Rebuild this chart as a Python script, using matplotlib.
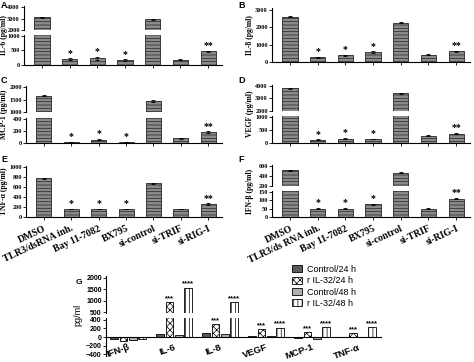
import matplotlib
matplotlib.use("Agg")
import matplotlib.pyplot as plt
from matplotlib.patches import Patch
import numpy as np

W, H = 474, 362

# data, panels A-F
cats_e = ["DMSO", "TLR3/dsRNA inh.", "Bay 11-7082", "BX795", "si-control", "si-TRIF", "si-RIG-I"]
cats_f = ["DMSO", "TLR3/ds RNA inh.", "Bay 11-7082", "BX795", "si-control", "si-TRIF", "si-RIG-I"]
stars = ["", "*", "*", "*", "", "", "**"]

il6 = [3100, 200, 230, 170, 2950, 185, 470]
il6_err = [40, 25, 45, 20, 50, 10, 25]
il8 = [2600, 260, 400, 570, 2250, 430, 620]
il8_err = [30, 40, 30, 40, 30, 20, 40]
mcp1 = [1650, 12, 55, 12, 1450, 80, 180]
mcp1_err = [20, 3, 8, 3, 30, 8, 12]
vegf = [3800, 120, 170, 150, 3400, 280, 360]
vegf_err = [40, 20, 20, 15, 40, 10, 25]
tnfa = [770, 160, 160, 160, 670, 165, 260]
tnfa_err = [8, 8, 8, 8, 8, 5, 15]
ifnb = [510, 50, 50, 75, 460, 50, 110]
ifnb_err = [8, 3, 3, 5, 5, 2, 5]

# data, panel G
g_cats = ["IFN-β", "IL-6", "IL-8", "VEGF", "MCP-1", "TNF-α"]
g_series = ["Control/24 h", "r IL-32/24 h", "Control/48 h", "r IL-32/48 h"]
ctrl_24 = [-50, 60, 90, 20, -30, -5]
ril32_24 = [-90, 950, 310, 180, 120, 100]
ctrl_48 = [-70, 50, 80, 30, -40, 5]
ril32_48 = [-50, 1580, 930, 220, 230, 230]
g_stars_24 = ["", "***", "***", "***", "***", "***"]
g_stars_48 = ["", "****", "****", "****", "****", "****"]

SERIF = "Liberation Serif"
SANS = "Liberation Sans"
plt.rcParams["hatch.linewidth"] = 0.5

fig = plt.figure(figsize=(W / 100, H / 100), dpi=100)


def box(l, t, r, b):
    return [l / W, 1 - b / H, (r - l) / W, (b - t) / H]


def style(ax, family, bottom=True, size=4.5):
    for s in ["top", "right"]:
        ax.spines[s].set_visible(False)
    ax.spines["left"].set_linewidth(0.8)
    ax.spines["bottom"].set_linewidth(0.8)
    if not bottom:
        ax.spines["bottom"].set_visible(False)
        ax.tick_params(axis="x", bottom=False, labelbottom=False)
    ax.tick_params(axis="y", length=2, width=0.6, pad=1, labelsize=size)
    ax.tick_params(axis="x", length=2, width=0.6)
    for lab in ax.get_yticklabels():
        lab.set_family(family)
        lab.set_fontweight("bold")


def draw_bars(ax, vals, errs):
    x = np.arange(len(vals))
    ax.bar(x, vals, width=0.55, color="#8a8a8a", edgecolor="#262626",
           linewidth=0.6, hatch="-----", yerr=errs,
           error_kw=dict(elinewidth=0.6, capsize=1.5, capthick=0.6, ecolor="black"))
    ax.set_xlim(-0.65, 6.5)
    ax.set_xticks(x)


def panel(letter, lx, ly, ylabel, yl_x, vals, errs, boxes, lims, ticks, labels=None):
    axes = []
    n = len(boxes)
    for i, (b, lim, tk) in enumerate(zip(boxes, lims, ticks)):
        ax = fig.add_axes(box(*b))
        draw_bars(ax, vals, errs)
        ax.set_ylim(*lim)
        ax.set_yticks(tk)
        style(ax, SERIF, bottom=(i == n - 1))
        axes.append(ax)
    low = axes[-1]
    low.set_xticklabels([])
    for i, s in enumerate(stars):
        if s:
            low.annotate(s, (i, vals[i] + errs[i]), xytext=(0, 0.5),
                         textcoords="offset points", ha="center", va="bottom",
                         fontsize=7, family=SERIF, fontweight="bold")
    if labels is not None:
        low.set_xticklabels(labels, rotation=25, ha="right", rotation_mode="anchor",
                            family=SERIF, fontweight="bold", fontsize=7)
        low.tick_params(axis="x", pad=3)
    top_px = boxes[0][1]
    bot_px = boxes[-1][3]
    fig.text(yl_x / W, 1 - (top_px + bot_px) / 2 / H, ylabel, rotation=90,
             ha="center", va="center", family=SERIF, fontweight="bold", fontsize=5.5)
    fig.text(lx / W, 1 - ly / H, letter, ha="left", va="top", family=SANS,
             fontweight="bold", fontsize=6.5)
    return axes


panel("A", 1, 1, "IL-6 (pg/ml)", 4, il6, il6_err,
      [(24, 6, 222, 30), (24, 35, 222, 65)],
      [(2000, 4100), (0, 1030)],
      [[2000, 3000, 4000], [0, 500, 1000]])
panel("B", 238, 1, "IL-8 (pg/ml)", 250, il8, il8_err,
      [(272, 8, 470, 62)],
      [(0, 3100)],
      [[0, 1000, 2000, 3000]])
panel("C", 1, 76, "MCP-1 (pg/ml)", 4, mcp1, mcp1_err,
      [(26, 86, 222, 112), (26, 118, 222, 143)],
      [(1000, 2040), (0, 410)],
      [[1000, 1500, 2000], [0, 200, 400]])
panel("D", 238, 76, "VEGF (pg/ml)", 250, vegf, vegf_err,
      [(272, 85, 470, 111), (272, 116, 470, 143)],
      [(2000, 4080), (0, 1030)],
      [[2000, 3000, 4000], [0, 500, 1000]])
panel("E", 1, 155, "TNF-α (pg/ml)", 4, tnfa, tnfa_err,
      [(26, 166, 222, 217)],
      [(0, 1020)],
      [[0, 200, 400, 600, 800, 1000]],
      labels=cats_e)
panel("F", 238, 155, "IFN-β (pg/ml)", 250, ifnb, ifnb_err,
      [(272, 165, 470, 186), (272, 191, 470, 217)],
      [(200, 610), (0, 155)],
      [[200, 400, 600], [0, 50, 100, 150]],
      labels=cats_f)

# panel G
g_styles = [
    dict(color="#5a5a5a", hatch=None),
    dict(color="white", hatch="xxxxx"),
    dict(color="#b0b0b0", hatch=None),
    dict(color="white", hatch="||||"),
]
g_vals = [ctrl_24, ril32_24, ctrl_48, ril32_48]
xg = np.arange(len(g_cats))
offs = [-0.3, -0.1, 0.1, 0.3]

g_top = fig.add_axes(box(106, 276, 381, 313))
g_bot = fig.add_axes(box(106, 318, 381, 356))
for ax in (g_top, g_bot):
    for vals, st, off in zip(g_vals, g_styles, offs):
        ax.bar(xg + off, vals, width=0.17, color=st["color"], hatch=st["hatch"],
               edgecolor="black", linewidth=0.6)
    ax.set_xlim(-0.48, 5.5)
g_top.set_ylim(456, 2088)
g_top.set_yticks([500, 1000, 1500, 2000])
g_bot.set_ylim(-447, 447)
g_bot.set_yticks([-400, -200, 0, 200, 400])
style(g_top, SANS, bottom=False, size=5)
style(g_bot, SANS, size=5)
g_bot.spines["bottom"].set_position(("data", 0))
g_bot.set_xticks(xg)
g_bot.set_xticklabels(g_cats, rotation=20, ha="right", rotation_mode="anchor",
                      family=SANS, fontweight="bold", fontsize=6.8)
g_bot.tick_params(axis="x", length=0, pad=4)

for i in range(len(g_cats)):
    for s, vals, off in [(g_stars_24[i], ril32_24, -0.1), (g_stars_48[i], ril32_48, 0.3)]:
        if not s:
            continue
        ax = g_top if vals[i] > 447 else g_bot
        ax.annotate(s, (i + off, vals[i]), xytext=(0, 0), textcoords="offset points",
                    ha="center", va="bottom", fontsize=5.5, family=SANS, fontweight="bold")

fig.text(78 / W, 1 - 315 / H, "pg/ml", rotation=90, ha="center", va="center",
         family=SANS, fontsize=6.5)
fig.text(76 / W, 1 - 279 / H, "G", ha="left", va="top", family=SANS,
         fontweight="bold", fontsize=6)

handles = [Patch(facecolor=st["color"], hatch=st["hatch"], edgecolor="black", linewidth=0.6)
           for st in g_styles]
fig.legend(handles, g_series, loc="upper left", bbox_to_anchor=(292 / W, 1 - 265 / H),
           frameon=False, handlelength=1.1, handleheight=0.8,
           labelspacing=0.25, handletextpad=0.6, borderaxespad=0, borderpad=0,
           prop=dict(family=SANS, size=6.5))

fig.savefig("out.png", dpi=100)
